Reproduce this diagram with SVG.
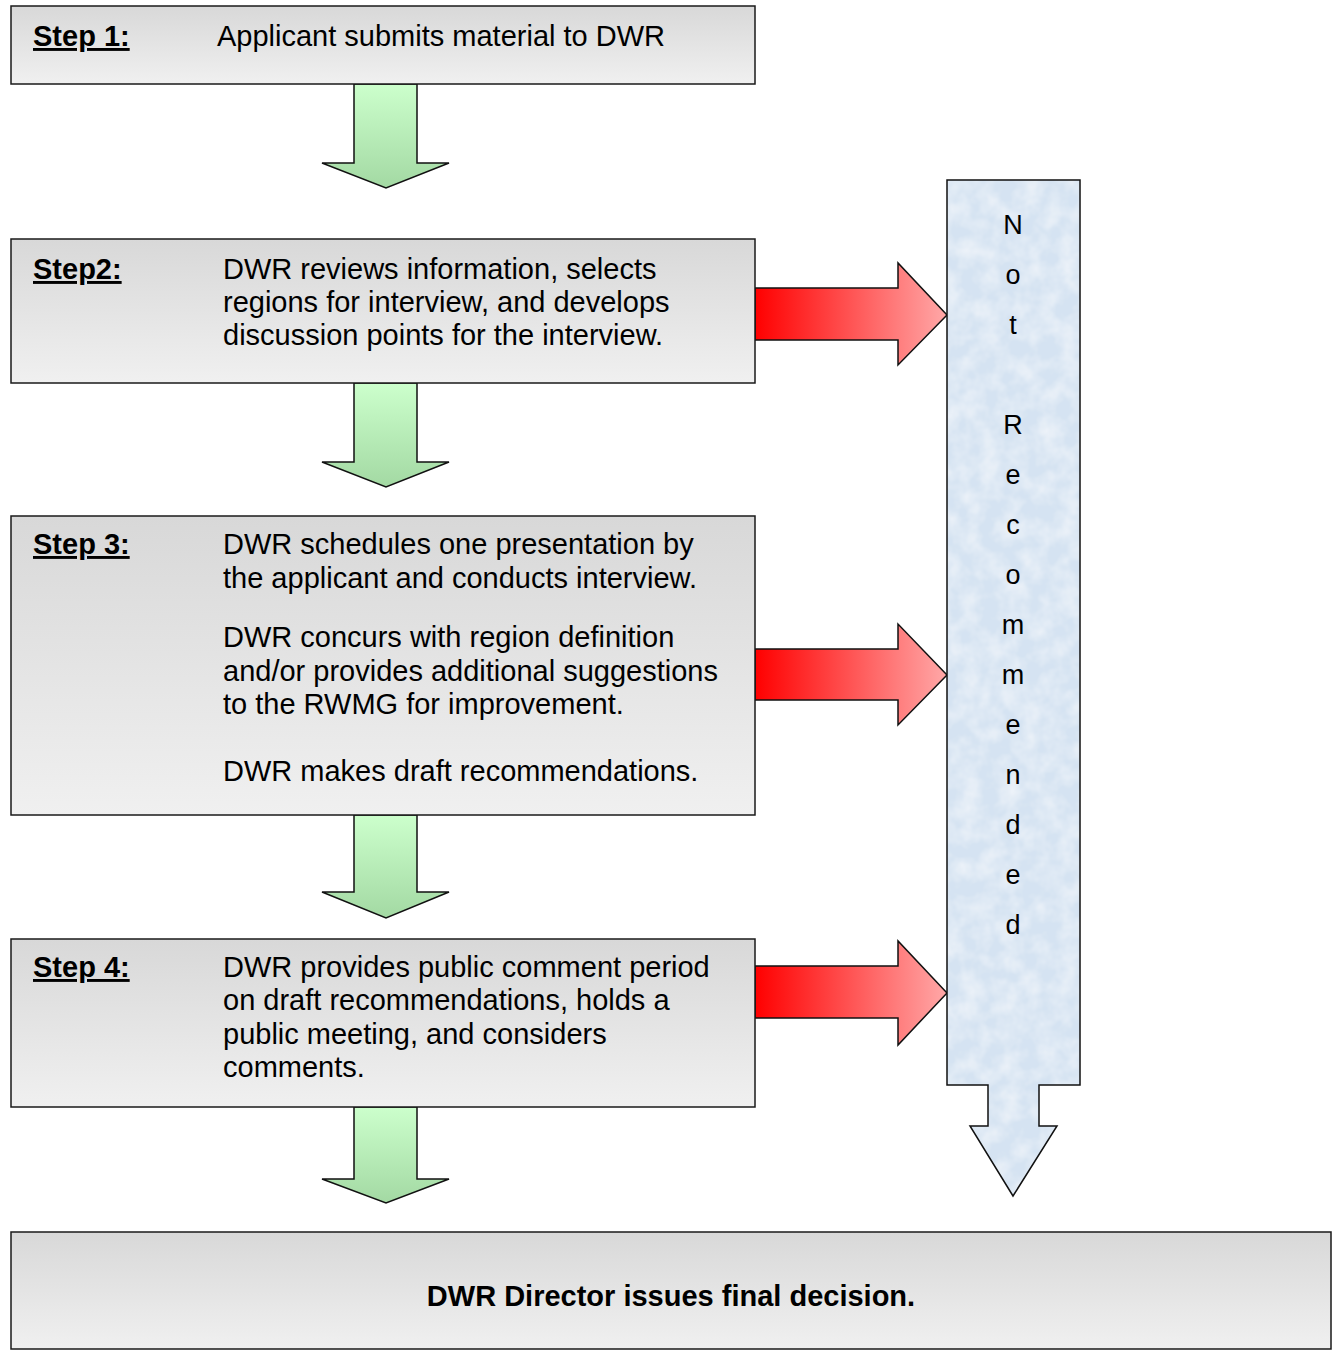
<svg xmlns="http://www.w3.org/2000/svg" width="1335" height="1350" viewBox="0 0 1335 1350">
<defs>
<linearGradient id="boxg" x1="0" y1="0" x2="0" y2="1"><stop offset="0" stop-color="#d8d8d8"/><stop offset="1" stop-color="#f0f0f0"/></linearGradient>
<linearGradient id="greeng" x1="0" y1="0" x2="0" y2="1"><stop offset="0" stop-color="#ccffcc"/><stop offset="1" stop-color="#a3d9a3"/></linearGradient>
<linearGradient id="redg" x1="0" y1="0" x2="1" y2="0"><stop offset="0" stop-color="#ff0000"/><stop offset="1" stop-color="#ffa8a8"/></linearGradient>
<filter id="tex" x="0" y="0" width="1" height="1">
<feTurbulence type="fractalNoise" baseFrequency="0.05" numOctaves="3" seed="4" result="n"/>
<feColorMatrix in="n" type="matrix" values="0 0 0 0 1  0 0 0 0 1  0 0 0 0 1  0.9 0 0 0 -0.3" result="c"/>
<feComposite in="c" in2="SourceGraphic" operator="in" result="t"/>
<feMerge><feMergeNode in="SourceGraphic"/><feMergeNode in="t"/></feMerge>
</filter>
</defs>
<style>
.box{fill:url(#boxg);stroke:#1a1a1a;stroke-width:1.5}
.garrow{fill:url(#greeng);stroke:#111;stroke-width:1.5;stroke-linejoin:miter}
.rarrow{fill:url(#redg);stroke:#111;stroke-width:1.5}
.bar{fill:#d5e3f2}
.barline{fill:none;stroke:#111;stroke-width:1.5}
text{font-family:"Liberation Sans",Arial,sans-serif;font-size:29px;fill:#000}
.lbl{font-weight:bold;text-decoration:underline}
.bold{font-weight:bold}
.v{font-size:27px;text-anchor:middle}
</style>
<g id="connectors">
<polygon class="garrow" points="354,84 417,84 417,163 449,163 386,188 322,163 354,163"/>
<polygon class="garrow" points="354,383 417,383 417,462 449,462 386,487 322,462 354,462"/>
<polygon class="garrow" points="354,815 417,815 417,892 449,892 386,918 322,892 354,892"/>
<polygon class="garrow" points="354,1107 417,1107 417,1179 449,1179 386,1203 322,1179 354,1179"/>
<polygon class="rarrow" points="755,288 898,288 898,263 947,315 898,365 898,340 755,340"/>
<polygon class="rarrow" points="755,649 898,649 898,624 947,675 898,725 898,700 755,700"/>
<polygon class="rarrow" points="755,966 898,966 898,941 947,993 898,1045 898,1018 755,1018"/>
</g>
<g id="not-recommended">
<polygon class="bar" filter="url(#tex)" points="947,180 1080,180 1080,1085 1039,1085 1039,1126 1057,1126 1013,1196 970,1126 988,1126 988,1085 947,1085"/>
<polygon class="barline" points="947,180 1080,180 1080,1085 1039,1085 1039,1126 1057,1126 1013,1196 970,1126 988,1126 988,1085 947,1085"/>
<text class="v" x="1013" y="234">N</text>
<text class="v" x="1013" y="284">o</text>
<text class="v" x="1013" y="334">t</text>
<text class="v" x="1013" y="434">R</text>
<text class="v" x="1013" y="484">e</text>
<text class="v" x="1013" y="534">c</text>
<text class="v" x="1013" y="584">o</text>
<text class="v" x="1013" y="634">m</text>
<text class="v" x="1013" y="684">m</text>
<text class="v" x="1013" y="734">e</text>
<text class="v" x="1013" y="784">n</text>
<text class="v" x="1013" y="834">d</text>
<text class="v" x="1013" y="884">e</text>
<text class="v" x="1013" y="934">d</text>
</g>
<g id="step1">
<rect class="box" x="11" y="6" width="744" height="78"/>
<text class="lbl" x="33" y="46">Step 1:</text>
<text x="217" y="46">Applicant submits material to DWR</text>
</g>
<g id="step2">
<rect class="box" x="11" y="239" width="744" height="144"/>
<text class="lbl" x="33" y="279">Step2:</text>
<text x="223" y="279">DWR reviews information, selects</text>
<text x="223" y="312">regions for interview, and develops</text>
<text x="223" y="345">discussion points for the interview.</text>
</g>
<g id="step3">
<rect class="box" x="11" y="516" width="744" height="299"/>
<text class="lbl" x="33" y="554">Step 3:</text>
<text x="223" y="554">DWR schedules one presentation by</text>
<text x="223" y="588">the applicant and conducts interview.</text>
<text x="223" y="647">DWR concurs with region definition</text>
<text x="223" y="681">and/or provides additional suggestions</text>
<text x="223" y="714">to the RWMG for improvement.</text>
<text x="223" y="781">DWR makes draft recommendations.</text>
</g>
<g id="step4">
<rect class="box" x="11" y="939" width="744" height="168"/>
<text class="lbl" x="33" y="977">Step 4:</text>
<text x="223" y="977">DWR provides public comment period</text>
<text x="223" y="1010">on draft recommendations, holds a</text>
<text x="223" y="1044">public meeting, and considers</text>
<text x="223" y="1077">comments.</text>
</g>
<g id="final">
<rect class="box" x="11" y="1232" width="1320" height="117"/>
<text class="bold" x="671" y="1306" text-anchor="middle">DWR Director issues final decision.</text>
</g>
</svg>
